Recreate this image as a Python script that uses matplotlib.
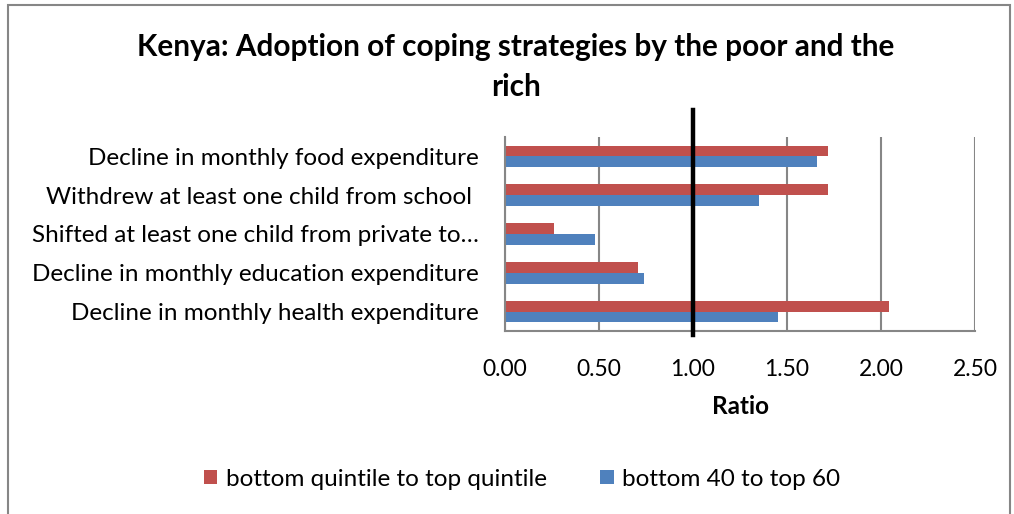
import numpy as np
import matplotlib.pyplot as plt
from matplotlib.patches import Rectangle
import matplotlib.transforms as mtransforms

plt.rcParams['font.family'] = ['Lato', 'DejaVu Sans']

categories = [
    "Decline in monthly food expenditure",
    "Withdrew at least one child from school ",
    "Shifted at least one child from private to\u2026",
    "Decline in monthly education expenditure",
    "Decline in monthly health expenditure",
]
quintile_ratio = [1.72, 1.72, 0.26, 0.71, 2.04]
forty_sixty_ratio = [1.66, 1.35, 0.48, 0.74, 1.45]
series_names = ["bottom quintile to top quintile", "bottom 40 to top 60"]
x_ticks = [0.0, 0.5, 1.0, 1.5, 2.0, 2.5]

red = "#C0504D"
blue = "#4F81BD"
grid_grey = "#868686"

fig = plt.figure(figsize=(10.14, 5.14), dpi=100)
ax = fig.add_axes([505 / 1014, 1 - 331 / 514, 470 / 1014, 194 / 514])

y = np.arange(len(categories))
h = 0.28
ax.barh(y - h / 2, quintile_ratio, height=h, color=red, label=series_names[0], zorder=2)
ax.barh(y + h / 2, forty_sixty_ratio, height=h, color=blue, label=series_names[1], zorder=2)

ax.set_xlim(0, 2.5)
ax.set_ylim(len(categories) - 0.5, -0.5)
ax.set_xticks(x_ticks)
ax.set_xticklabels([f"{v:.2f}" for v in x_ticks], fontsize=16.5)
ax.set_yticks(y)
ax.set_yticklabels(categories, fontsize=17.5)
ax.tick_params(axis='both', length=0)
ax.tick_params(axis='x', pad=20)
ax.tick_params(axis='y', pad=19)

ax.grid(axis='x', color=grid_grey, linewidth=1.5, zorder=1)
for side in ['top', 'right']:
    ax.spines[side].set_visible(False)
ax.spines['left'].set_color(grid_grey)
ax.spines['bottom'].set_color(grid_grey)
ax.spines['left'].set_linewidth(1.5)
ax.spines['bottom'].set_linewidth(1.5)

ax.set_xlabel("Ratio", fontsize=17.5, fontweight='bold', labelpad=11)

# reference line at ratio 1
trans = mtransforms.blended_transform_factory(ax.transData, ax.transAxes)
ax.plot([1.0, 1.0], [-0.02, 1.14], color='black', linewidth=3.2,
        transform=trans, clip_on=False, zorder=4)

fig.text(516 / 1014, 1 - 67 / 514,
         "Kenya: Adoption of coping strategies by the poor and the\nrich",
         ha='center', va='center', fontsize=21.4, fontweight='bold', linespacing=1.5)

fig.legend(loc='center', bbox_to_anchor=(0.515, 1 - 479 / 514), ncol=2,
           frameon=False, fontsize=17.5, handlelength=0.55, handleheight=0.55,
           handletextpad=0.35, columnspacing=2.2)

# chart area border
fig.add_artist(Rectangle((8 / 1014, -0.05), 1002 / 1014, 1.05 - 5 / 514,
                         transform=fig.transFigure, fill=False,
                         edgecolor=grid_grey, linewidth=1.5))

fig.savefig("out.png", dpi=100)
